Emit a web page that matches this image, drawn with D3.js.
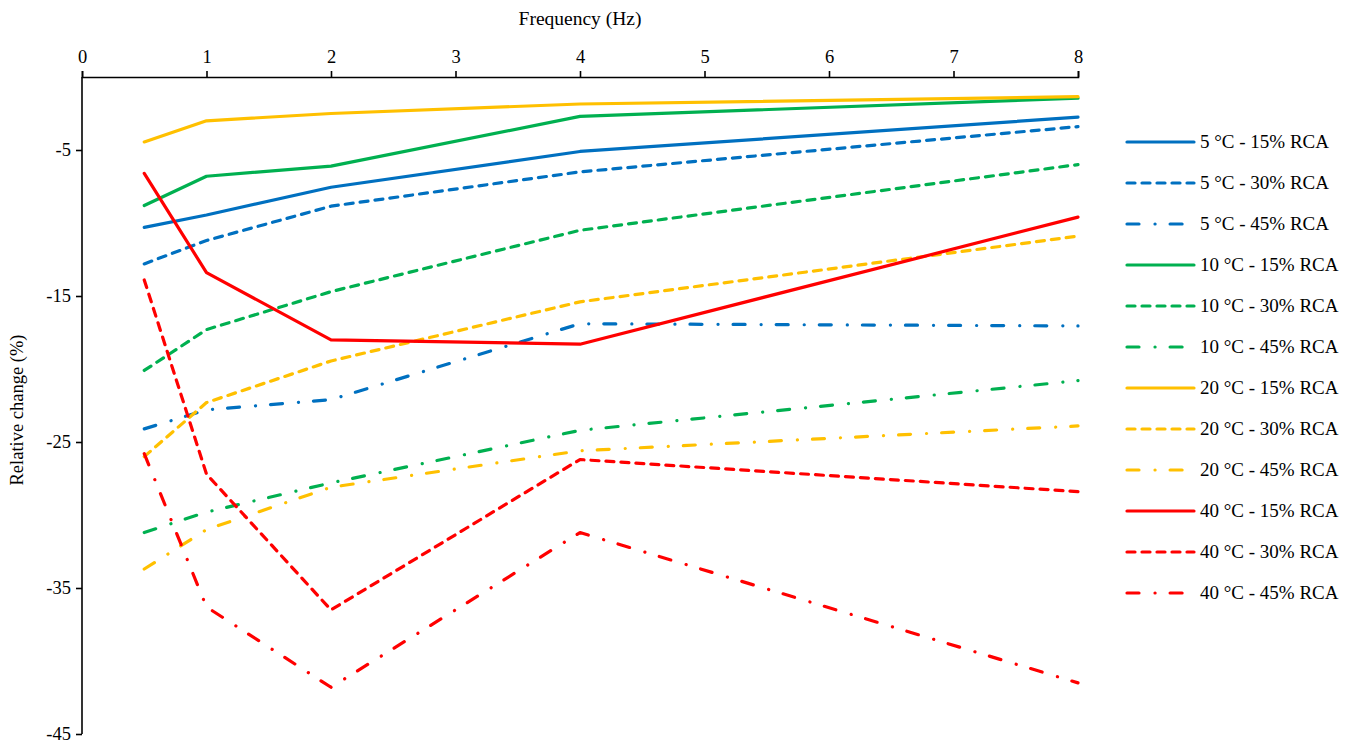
<!DOCTYPE html>
<html>
<head>
<meta charset="utf-8">
<script src="https://cdn.jsdelivr.net/npm/d3@7"></script>
<style>
  html, body { margin: 0; padding: 0; background: #fff; }
  svg { display: block; font-family: "Liberation Serif", "DejaVu Serif", serif; }
</style>
</head>
<body>
<svg id="chart" width="1356" height="745"></svg>
<script>
// Loading frequencies (Hz)
const frequencies = [0.5, 1, 2, 4, 8];

// Relative change (%) per mix: temperature - RCA content
const s5_15  = [-10.3, -9.45, -7.55, -5.1, -2.75];
const s5_30  = [-12.8, -11.2, -8.85, -6.5, -3.4];
const s5_45  = [-24.1, -22.8, -22.1, -16.9, -17.05];
const s10_15 = [-8.8, -6.8, -6.1, -2.7, -1.45];
const s10_30 = [-20.1, -17.3, -14.7, -10.5, -6.0];
const s10_45 = [-31.2, -29.8, -27.8, -24.2, -20.8];
const s20_15 = [-4.45, -3.0, -2.5, -1.85, -1.35];
const s20_30 = [-26.0, -22.3, -19.45, -15.4, -10.9];
const s20_45 = [-33.7, -31.0, -28.1, -25.6, -23.9];
const s40_15 = [-6.6, -13.4, -18.0, -18.3, -9.6];
const s40_30 = [-13.9, -27.2, -36.5, -26.2, -28.4];
const s40_45 = [-25.8, -36.3, -41.8, -31.2, -41.5];

const seriesNames = [
  "5 °C - 15% RCA", "5 °C - 30% RCA", "5 °C - 45% RCA",
  "10 °C - 15% RCA", "10 °C - 30% RCA", "10 °C - 45% RCA",
  "20 °C - 15% RCA", "20 °C - 30% RCA", "20 °C - 45% RCA",
  "40 °C - 15% RCA", "40 °C - 30% RCA", "40 °C - 45% RCA"
];
const seriesValues = [s5_15, s5_30, s5_45, s10_15, s10_30, s10_45,
                      s20_15, s20_30, s20_45, s40_15, s40_30, s40_45];

const xTicks = [0, 1, 2, 3, 4, 5, 6, 7, 8];
const yTicks = [-5, -15, -25, -35, -45];

// Colour by temperature, line style by RCA content
const tempColors = ["#0070C0", "#00B050", "#FFC000", "#FF0000"];
const rcaDash = [null, "8,7", "12,16,0.1,15"];

const FONT = "'Liberation Serif', 'DejaVu Serif', serif";
const svg = d3.select("#chart");
const x = d3.scaleLinear().domain([0, 8]).range([82, 1078]);
const y = d3.scaleLinear().domain([0, -45]).range([77, 734]);
const plainFormat = d => String(d);   // keep an ASCII hyphen for negatives

// X axis across the top
const xAxis = svg.append("g")
  .attr("transform", `translate(0,${y(0)})`)
  .call(d3.axisTop(x).tickValues(xTicks).tickSize(6).tickPadding(8).tickFormat(plainFormat));
xAxis.select(".domain").attr("stroke", "#000").attr("stroke-width", 1.6);
xAxis.selectAll(".tick line").attr("stroke", "#000").attr("stroke-width", 1.6);
xAxis.selectAll(".tick text").attr("fill", "#000").style("font-size", "18.5px")
  .style("font-family", FONT);

// Y axis on the left
const yAxis = svg.append("g")
  .attr("transform", `translate(${x(0)},0)`)
  .call(d3.axisLeft(y).tickValues(yTicks).tickSize(6).tickPadding(5).tickFormat(plainFormat));
yAxis.select(".domain").attr("stroke", "#000").attr("stroke-width", 1.6)
  .attr("d", `M0,${y(0)}V${y(-45)}`);
yAxis.selectAll(".tick line").attr("stroke", "#000").attr("stroke-width", 1.6);
yAxis.selectAll(".tick text").attr("fill", "#000").style("font-size", "18.5px")
  .style("font-family", FONT);

// Axis titles
svg.append("text")
  .attr("x", 580).attr("y", 25)
  .attr("text-anchor", "middle")
  .style("font-size", "19.5px")
  .text("Frequency (Hz)");

svg.append("text")
  .attr("transform", `translate(23,410) rotate(-90)`)
  .attr("text-anchor", "middle")
  .style("font-size", "18.5px")
  .text("Relative change (%)");

// Series lines
const line = d3.line()
  .x((d, i) => x(frequencies[i]))
  .y(d => y(d));

seriesValues.forEach((vals, k) => {
  const t = Math.floor(k / 3), r = k % 3;
  svg.append("path")
    .datum(vals)
    .attr("d", line)
    .attr("fill", "none")
    .attr("stroke", tempColors[t])
    .attr("stroke-width", 3.2)
    .attr("stroke-linecap", "round")
    .attr("stroke-linejoin", "round")
    .attr("stroke-dasharray", rcaDash[r]);
});

// Legend
const legend = svg.append("g");
seriesNames.forEach((name, k) => {
  const t = Math.floor(k / 3), r = k % 3;
  const ly = 142 + k * 41;
  legend.append("line")
    .attr("x1", 1127).attr("x2", 1194)
    .attr("y1", ly).attr("y2", ly)
    .attr("stroke", tempColors[t])
    .attr("stroke-width", 3.2)
    .attr("stroke-linecap", "round")
    .attr("stroke-dasharray", rcaDash[r]);
  legend.append("text")
    .attr("x", 1200).attr("y", ly + 6)
    .style("font-size", "19px")
    .attr("fill", "#000")
    .text(name);
});
</script>
</body>
</html>
